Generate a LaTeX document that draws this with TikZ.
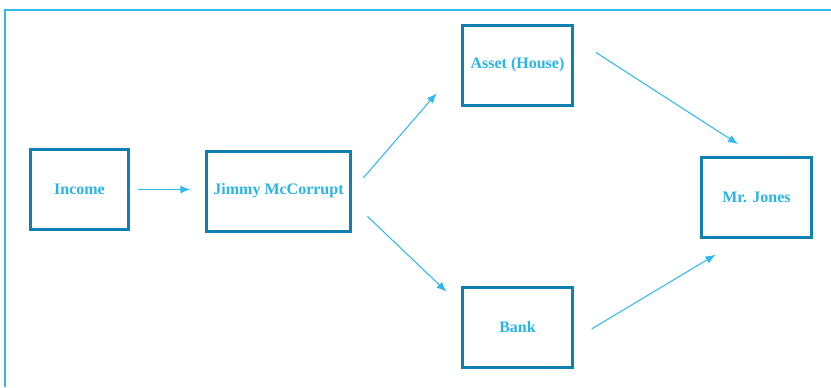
\documentclass[tikz,border=0pt]{standalone}
\usepackage{xcolor}
\usepackage{fontspec}
\setmainfont{Liberation Serif}
\usetikzlibrary{arrows.meta}
\definecolor{boxblue}{RGB}{16,128,176}
\definecolor{textblue}{RGB}{40,180,232}
\definecolor{lineblue}{RGB}{50,185,235}
\tikzset{
box/.style={
  rectangle,
  draw=boxblue,
  line width=2.25pt,
  minimum height=60pt,
  text=textblue,
  font=\bfseries\fontsize{12}{14}\selectfont,
  align=center
},
link/.style={
  draw=lineblue,
  line width=0.8pt,
  -{Latex[length=7.5pt,width=6pt]}
},
frame/.style={draw=lineblue,line width=1.5pt},
}

\begin{document}
\begin{tikzpicture}[x=0.75pt,y=-0.75pt]
\useasboundingbox (0,0) rectangle (831,387);
% the frame
\draw[frame] (5,387) -- (5,9.5) -- (831,9.5);
% the boxes
\node (inc) [box, minimum width=73.5pt] at (79.5,189.5) {Income};
\node (jim) [box, minimum width=108pt] at (278.5,191) {Jimmy McCorrupt};
\node (asset) [box, minimum width=82.5pt] at (517.5,65) {Asset (House)};
\node (bank) [box, minimum width=82.5pt] at (517.5,327.5) {Bank};
\node (jones) [box, minimum width=82.5pt] at (756.5,197.5) {Mr. Jones};
% the arrows
\draw[link, shorten <=6pt, shorten >=11pt] (inc.east) -- (inc.east -| jim.west);
\draw[link, shorten <=13pt, shorten >=28pt] (jim.east) -- (asset.west);
\draw[link, shorten <=16pt, shorten >=15pt]
  ([yshift=-8pt]jim.east) -- ([yshift=16.5pt]bank.west);
\draw[link, shorten <=19.5pt, shorten >=16.5pt]
  ([yshift=20pt]asset.east) -- (jones.north);
\draw[link, shorten <=15.5pt, shorten >=23pt]
  ([yshift=-9pt]bank.east) -- ([xshift=-11pt]jones.south);
\end{tikzpicture}
\end{document}
